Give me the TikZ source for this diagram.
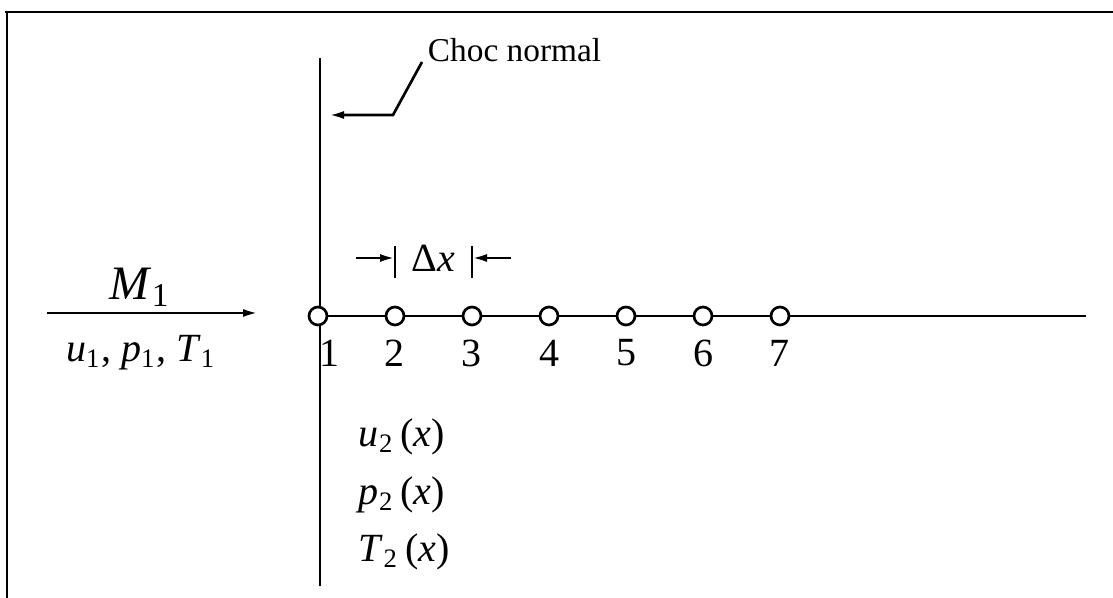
\documentclass[tikz,border=0pt]{standalone}
\usepackage{fontspec}
\setmainfont{Liberation Serif}
\usepackage{tikz}
\usetikzlibrary{arrows.meta,positioning,calc}
\tikzset{
	line/.style={line width=0.8pt},
	arrow/.style={-{Latex[length=4.5pt,width=2.4pt]}, line width=0.8pt},
	gridpt/.style={circle, draw, fill=white, line width=0.8pt, minimum size=5.4pt, inner sep=0pt},
	numlabel/.style={font=\large, inner sep=1pt},
	varlabel/.style={font=\large, inner sep=1pt, anchor=west}
}
\newcommand{\var}[2]{\textit{#1}\textsubscript{#2}}

\begin{document}
\begin{tikzpicture}[x=0.3pt, y=-0.3pt]
	\useasboundingbox (0,0) rectangle (1113,598);

	%% -- Frame (top and left edge)
	\draw[line] (5,12) -- (1113,12);
	\draw[line] (7,12) -- (7,598);

	%% -- Normal shock
	\coordinate (shocktop) at (320,58);
	\coordinate (shockbot) at (320,586);
	\draw[line] (shocktop) -- (shockbot);

	\node[anchor=south west, font=\normalsize, inner sep=1pt] (choc) at (424,66) {Choc normal};
	\coordinate (bend) at (393,115);
	\coordinate (tip) at (329,115);
	\draw[arrow] ($(choc.south west)+(-2,-4)$) -- (bend) -- (tip);

	%% -- Upstream flow
	\coordinate (inL) at (47,313);
	\coordinate (inR) at (258,313);
	\draw[arrow] (inL) -- (inR);
	\node[font=\Large, inner sep=1pt] (mach) at (140,287) {\var{M}{1}};
	\node[font=\large, inner sep=1pt] (state1) at (141,353)
	{\var{u}{1}, \var{p}{1}, \var{T}{1}};

	%% -- Grid points
	\coordinate (axisend) at (1086,316);
	\draw[line] (318,316) -- (axisend);
	\foreach \i in {1,...,7} {
		\node[gridpt] (c\i) at ({318+77*(\i-1)},316) {};
	}
	\node[numlabel] (n1) at (329,353) {1};
	\foreach \i in {2,...,7} {
		\node[numlabel] (n\i) at ($(c\i)+(0,37)$) {\i};
	}

	%% -- Spacing Delta x
	\coordinate (dxa) at (395,246);
	\coordinate (dxb) at (472,246);
	\draw[line] (dxa) -- ++(0,32);
	\draw[line] (dxb) -- ++(0,32);
	\node[font=\large, inner sep=1pt] (dx) at ($(dxa)!0.5!(dxb)+(0,12)$) {Δ\textit{x}};
	\coordinate (dxl) at (356,258);
	\coordinate (dxr) at (511,258);
	\draw[arrow] (dxl) -- (dxa |- dxl);
	\draw[arrow] (dxr) -- (dxb |- dxr);

	%% -- Downstream state
	\node[varlabel] (u2) at (355,437) {\var{u}{2}\,(\textit{x})};
	\node[varlabel] (p2) at (355,495) {\var{p}{2}\,(\textit{x})};
	\node[varlabel] (T2) at (355,552) {\var{T}{2}\,(\textit{x})};

\end{tikzpicture}
\end{document}
